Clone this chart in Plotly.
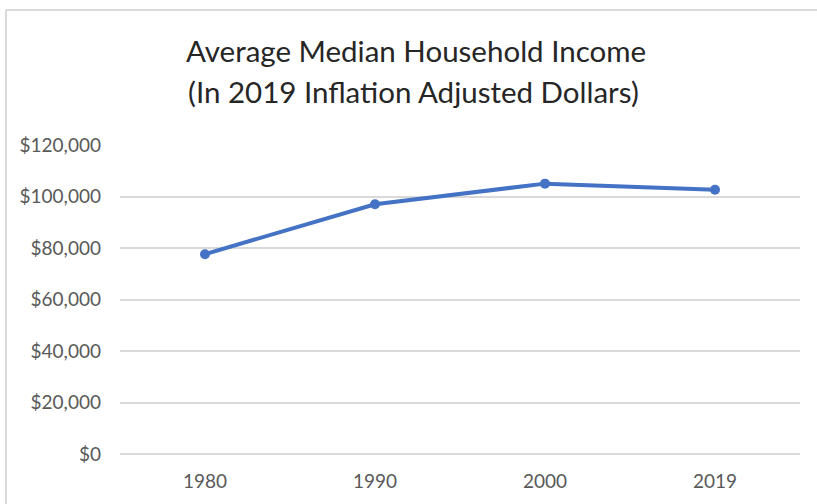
import plotly.graph_objects as go

years = ["1980", "1990", "2000", "2019"]
income = [77600, 97000, 105000, 102600]
y_ticks = [0, 20000, 40000, 60000, 80000, 100000, 120000]
y_tick_labels = ["$0", "$20,000", "$40,000", "$60,000", "$80,000", "$100,000", "$120,000"]
title_lines = ["Average Median Household Income", "(In 2019 Inflation Adjusted Dollars)"]

W, H = 817, 504
L, R, T, B = 120, 17, 145, 50
pw, ph = W - L - R, H - T - B

def px_x(px):
    return (px - L) / pw

def px_y(py):
    return (H - B - py) / ph

fig = go.Figure()
fig.add_trace(go.Scatter(
    x=years, y=income, mode="lines+markers",
    line=dict(color="#4472C4", width=4),
    marker=dict(color="#4472C4", size=10),
    showlegend=False,
))

fig.update_layout(
    width=W, height=H,
    margin=dict(l=L, r=R, t=T, b=B),
    paper_bgcolor="white", plot_bgcolor="white",
    font=dict(family="Lato, 'Open Sans', sans-serif", color="#595959"),
    xaxis=dict(
        type="category", range=[-0.5, 3.5],
        showgrid=False, showline=False, zeroline=False,
        tickfont=dict(size=19, color="#595959"), ticks="",
        ticklabelstandoff=14,
    ),
    yaxis=dict(
        range=[0, 120000], tickvals=y_ticks, ticktext=y_tick_labels,
        showgrid=True, gridcolor="#d9d9d9", gridwidth=1.5,
        zeroline=True, zerolinecolor="#d9d9d9", zerolinewidth=1.5,
        showline=False, ticks="", ticklabelstandoff=18,
        tickfont=dict(size=19, color="#595959"),
    ),
)

fig.add_annotation(text=title_lines[0], xref="paper", yref="paper",
                   x=px_x(416), y=px_y(50), showarrow=False,
                   xanchor="center", yanchor="middle",
                   font=dict(size=29.5, color="#262626"))
fig.add_annotation(text=title_lines[1], xref="paper", yref="paper",
                   x=px_x(413), y=px_y(92), showarrow=False,
                   xanchor="center", yanchor="middle",
                   font=dict(size=29.5, color="#262626"))

# chart-area border (top and left)
fig.add_shape(type="line", xref="paper", yref="paper",
              x0=px_x(6), x1=px_x(817), y0=px_y(10), y1=px_y(10),
              line=dict(color="#d9d9d9", width=2))
fig.add_shape(type="line", xref="paper", yref="paper",
              x0=px_x(6), x1=px_x(6), y0=px_y(10), y1=px_y(504),
              line=dict(color="#d9d9d9", width=2))

fig.write_html("out.html", config={"displayModeBar": False},
               post_script="document.body.style.margin='0';")
